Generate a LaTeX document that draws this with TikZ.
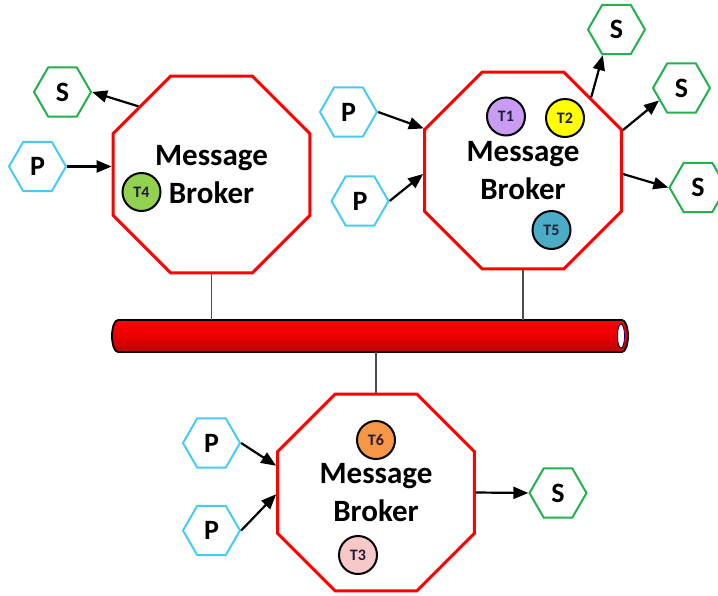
\documentclass[tikz,border=0pt]{standalone}
\usepackage{fontspec}
\setmainfont{Carlito}
\usetikzlibrary{shapes.geometric,arrows.meta}

\definecolor{brokerred}{HTML}{FF0000}
\definecolor{subgreen}{HTML}{22B14C}
\definecolor{pubblue}{HTML}{47CBF5}
\definecolor{topicpurple}{HTML}{C89CF2}
\definecolor{topicyellow}{HTML}{FFFF00}
\definecolor{topicteal}{HTML}{4BACC6}
\definecolor{topicgreen}{HTML}{92D050}
\definecolor{topicorange}{HTML}{F79646}
\definecolor{topicpink}{HTML}{F6C8C8}
\definecolor{pipetop}{HTML}{FF0000}
\definecolor{pipebottom}{HTML}{C00000}
\definecolor{labelink}{HTML}{1E1E3C}

\tikzset{
  broker/.style={regular polygon, regular polygon sides=8, minimum size=213pt,
    inner sep=0pt, draw=brokerred, line width=3pt, fill=white, align=center,
    font=\bfseries\fontsize{31}{38}\selectfont},
  hexbox/.style={regular polygon, regular polygon sides=6, minimum size=57pt,
    inner sep=0pt, line width=2pt, fill=white,
    font=\bfseries\fontsize{28}{28}\selectfont},
  pub/.style={hexbox, draw=pubblue},
  sub/.style={hexbox, draw=subgreen},
  topic/.style={circle, minimum size=38pt, inner sep=0pt, draw=black,
    line width=2pt, text=labelink, font=\bfseries\fontsize{16}{16}\selectfont},
  arr/.style={-{Triangle[length=15pt,width=12pt]}, line width=2.2pt, black},
  link/.style={line width=1.1pt, draw=black!70},
}

\begin{document}
\begin{tikzpicture}[x=1pt,y=-1pt]
\useasboundingbox (0,0) rectangle (718,595);

% the shared bus
\node[minimum width=516pt, minimum height=32pt, inner sep=0pt, outer sep=0pt] (bus) at (370,336) {};
\shade[top color=pipetop, bottom color=pipebottom, middle color=pipetop!92!black]
  ([xshift=6pt]bus.north west) -- ([xshift=-6pt]bus.north east)
  arc[start angle=90, end angle=-90, x radius=6pt, y radius=16pt]
  -- ([xshift=6pt]bus.south west)
  arc[start angle=270, end angle=90, x radius=6pt, y radius=16pt] -- cycle;
\draw[line width=1.8pt, black]
  ([xshift=6pt]bus.north west) -- ([xshift=-6pt]bus.north east)
  arc[start angle=90, end angle=-90, x radius=6pt, y radius=16pt]
  -- ([xshift=6pt]bus.south west)
  arc[start angle=270, end angle=90, x radius=6pt, y radius=16pt] -- cycle;
\draw[fill=white, draw=blue!40!black, line width=0.8pt]
  ([xshift=-7pt]bus.east) ellipse [x radius=3.5pt, y radius=12pt];

% brokers
\node[broker] (o1) at (211.5,174.5) {Message\\Broker};
\node[broker] (o2) at (523,170.5) {Message\\Broker};
\node[broker] (o3) at (376,492.5) {Message\\Broker};

% links to the bus
\draw[link] (o1.south) -- (o1.south |- bus.north);
\draw[link] (o2.south) -- (o2.south |- bus.north);
\draw[link] (o3.north) -- (o3.north |- bus.south);

% topics
\node[topic, fill=topicgreen]  (t4) at (141.5,192) {T4};
\node[topic, fill=topicpurple] (t1) at (506,116.5) {T1};
\node[topic, fill=topicyellow] (t2) at (565,118) {T2};
\node[topic, fill=topicteal]   (t5) at (551.5,230) {T5};
\node[topic, fill=topicorange] (t6) at (376,440) {T6};
\node[topic, fill=topicpink]   (t3) at (358,555) {T3};

% producers and subscribers
\node[sub] (s1)  at (62.5,92)    {S};
\node[pub] (p1)  at (37.5,166.5) {P};
\node[pub] (p2a) at (348.5,112)  {P};
\node[pub] (p2b) at (360,201)    {P};
\node[sub] (s2a) at (616.5,29.5) {S};
\node[sub] (s2b) at (681.5,88)   {S};
\node[sub] (s2c) at (698,187.5)  {S};
\node[pub] (p3a) at (211.5,443)  {P};
\node[pub] (p3b) at (211.5,530.5){P};
\node[sub] (s3)  at (558,493)    {S};

% message flow
\draw[arr] (p1.east) -- (p1.east -| o1.west);
\draw[arr] (o1.137) -- (s1.east);

\draw[arr] (p2a.east) -- (o2.157.5);
\draw[arr] (p2b.east) -- (o2.182);
\draw[arr] (o2.47.6) -- (s2a.242);
\draw[arr] (o2.22.5) -- (s2b.209);
\draw[arr] (o2.-2.6) -- (s2c.west);

\draw[arr] (p3a.east) -- (o3.165.6);
\draw[arr] (p3b.east) -- (o3.181);
\draw[arr] (o3.east) -- (s3.west);
\end{tikzpicture}
\end{document}
